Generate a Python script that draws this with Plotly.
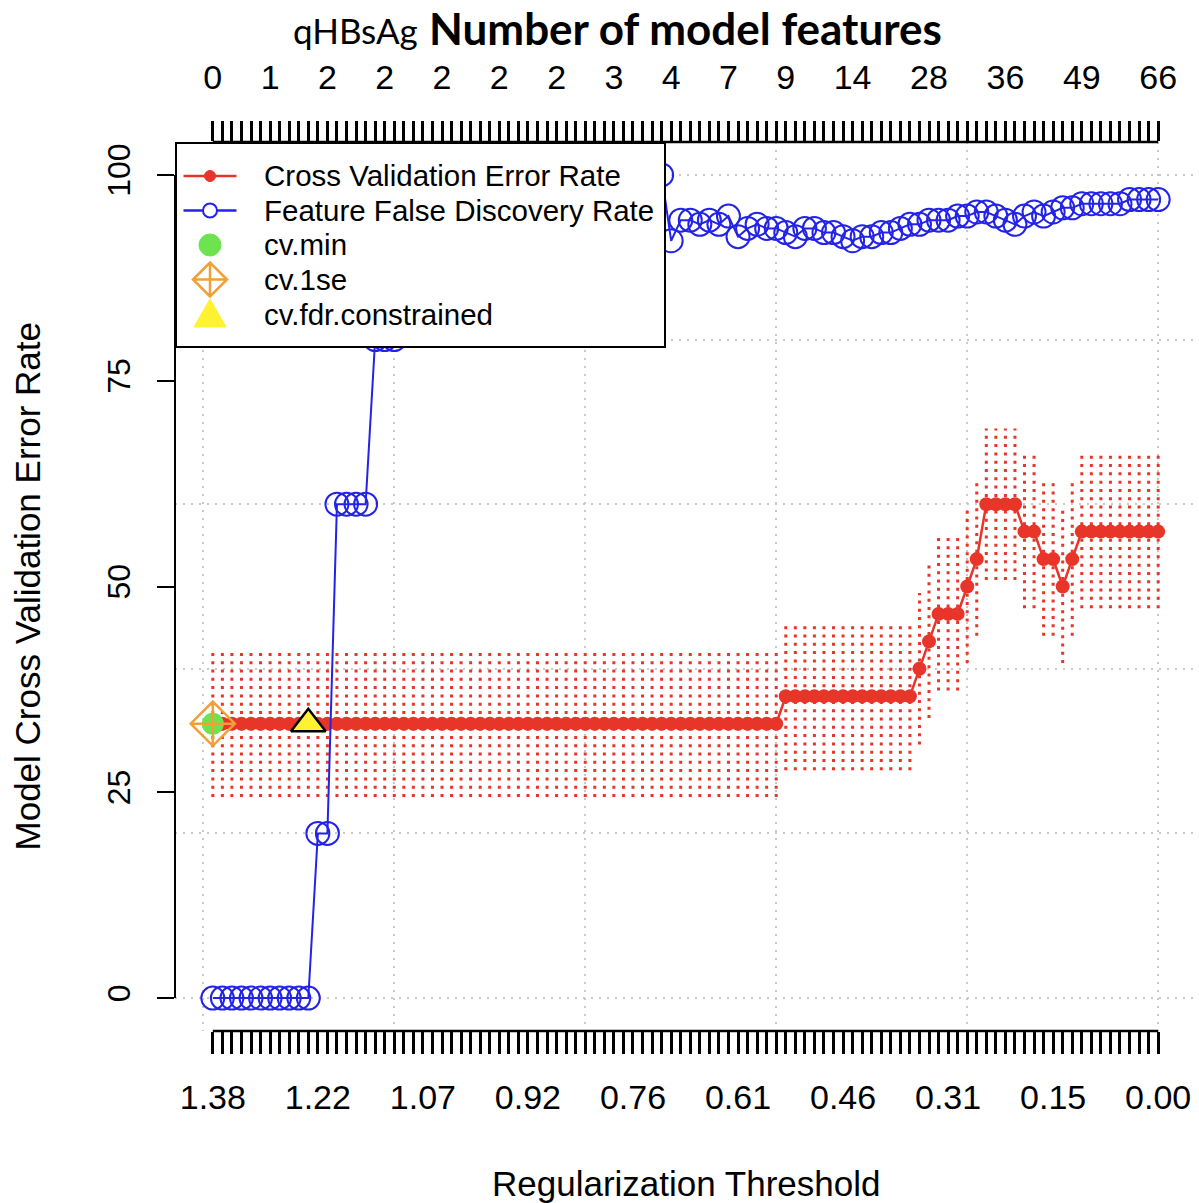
import plotly.graph_objects as go

# Cross-validated error rate (%) along the shrinkage threshold path
cv_error = [
    33.33, 33.33, 33.33, 33.33, 33.33, 33.33, 33.33, 33.33, 33.33, 33.33,
    33.33, 33.33, 33.33, 33.33, 33.33, 33.33, 33.33, 33.33, 33.33, 33.33,
    33.33, 33.33, 33.33, 33.33, 33.33, 33.33, 33.33, 33.33, 33.33, 33.33,
    33.33, 33.33, 33.33, 33.33, 33.33, 33.33, 33.33, 33.33, 33.33, 33.33,
    33.33, 33.33, 33.33, 33.33, 33.33, 33.33, 33.33, 33.33, 33.33, 33.33,
    33.33, 33.33, 33.33, 33.33, 33.33, 33.33, 33.33, 33.33, 33.33, 33.33,
    36.67, 36.67, 36.67, 36.67, 36.67, 36.67, 36.67, 36.67, 36.67, 36.67,
    36.67, 36.67, 36.67, 36.67, 40.00, 43.33, 46.67, 46.67, 46.67, 50.00,
    53.33, 60.00, 60.00, 60.00, 60.00, 56.67, 56.67, 53.33, 53.33, 50.00,
    53.33, 56.67, 56.67, 56.67, 56.67, 56.67, 56.67, 56.67, 56.67, 56.67,
]

# Standard error of the CV error at each threshold
cv_se = [
    8.9, 8.9, 8.9, 8.9, 8.9, 8.9, 8.9, 8.9, 8.9, 8.9,
    8.9, 8.9, 8.9, 8.9, 8.9, 8.9, 8.9, 8.9, 8.9, 8.9,
    8.9, 8.9, 8.9, 8.9, 8.9, 8.9, 8.9, 8.9, 8.9, 8.9,
    8.9, 8.9, 8.9, 8.9, 8.9, 8.9, 8.9, 8.9, 8.9, 8.9,
    8.9, 8.9, 8.9, 8.9, 8.9, 8.9, 8.9, 8.9, 8.9, 8.9,
    8.9, 8.9, 8.9, 8.9, 8.9, 8.9, 8.9, 8.9, 8.9, 8.9,
    9.0, 9.0, 9.0, 9.0, 9.0, 9.0, 9.0, 9.0, 9.0, 9.0,
    9.0, 9.0, 9.0, 9.0, 9.2, 9.3, 9.3, 9.3, 9.3, 9.3,
    9.3, 9.2, 9.2, 9.2, 9.2, 9.3, 9.3, 9.3, 9.3, 9.3,
    9.3, 9.3, 9.3, 9.3, 9.3, 9.3, 9.3, 9.3, 9.3, 9.3,
]

# Feature false discovery rate (%) at each threshold
fdr = [
    0, 0, 0, 0, 0, 0, 0, 0, 0, 0,
    0, 20, 20, 60, 60, 60, 60, 80, 80, 80,
    90, 90, 90, 90, 90, 90, 90, 90, 90, 90,
    93, 93, 93, 93, 93, 93, 93, 93, 93, 93,
    96, 96, 96, 96, 96, 96, 96, 100, 92, 94.5,
    94.5, 94, 94.5, 94, 95, 92.5, 93.5, 94, 93.5, 93.5,
    93, 92.5, 93.5, 93.5, 93, 93, 92.5, 92, 92.5, 92.5,
    93, 93, 93.5, 94, 94, 94.5, 94.5, 94.5, 95, 95,
    95.5, 95.5, 95, 94.5, 94, 95, 95.5, 95, 95.5, 96,
    96, 96.5, 96.5, 96.5, 96.5, 96.5, 97, 97, 97, 97,
]

# Bottom axis: threshold values printed under selected steps
threshold_labels = ["1.38", "1.22", "1.07", "0.92", "0.76", "0.61", "0.46", "0.31", "0.15", "0.00"]
threshold_label_steps = [1, 12, 23, 34, 45, 56, 67, 78, 89, 100]

# Top axis: number of features retained at selected steps
feature_labels = ["0", "1", "2", "2", "2", "2", "2", "3", "4", "7", "9", "14", "28", "36", "49", "66"]
feature_label_steps = [1, 7, 13, 19, 25, 31, 37, 43, 49, 55, 61, 68, 76, 84, 92, 100]

y_ticks = [0, 25, 50, 75, 100]

# Selected thresholds
cv_min_step = 1
cv_1se_step = 1
cv_fdr_step = 11

legend_labels = ["Cross Validation Error Rate", "Feature False Discovery Rate",
                 "cv.min", "cv.1se", "cv.fdr.constrained"]

RED = "#E8352A"
BLUE = "#2323E8"
GREEN = "#6DE34F"
ORANGE = "#F0A038"
YELLOW = "#FFF230"
SANS = "Liberation Sans, Arial, Helvetica, sans-serif"

W, H = 1199, 1203
M_L, M_R, M_T, M_B = 175, 3, 142, 172

n = len(cv_error)
steps = list(range(1, n + 1))

# R-style 4% padding around the data range
xpad = 0.04 * (n - 1)
x_range = [1 - xpad, n + xpad]
ypad = 0.04 * (max(y_ticks) - min(y_ticks))
y_range = [min(y_ticks) - ypad, max(y_ticks) + ypad]

bottom_text = {s: t for s, t in zip(threshold_label_steps, threshold_labels)}
top_text = {s: t for s, t in zip(feature_label_steps, feature_labels)}


def paper_x(px):
    return (px - M_L) / (W - M_L - M_R)


def paper_y(py):
    return (H - M_B - py) / (H - M_T - M_B)


# Dotted vertical error bars, one segment per threshold
eb_x, eb_y = [], []
for s, e, se in zip(steps, cv_error, cv_se):
    eb_x += [s, s, None]
    eb_y += [e - se, e + se, None]

fig = go.Figure()

fig.add_trace(go.Scatter(
    x=eb_x, y=eb_y, mode="lines", showlegend=False, hoverinfo="skip",
    line=dict(color=RED, width=3, dash="3px,5.3px"),
))
fig.add_trace(go.Scatter(
    x=steps, y=cv_error, mode="lines+markers", name=legend_labels[0], showlegend=False,
    line=dict(color=RED, width=2.5), marker=dict(color=RED, size=14),
))
fig.add_trace(go.Scatter(
    x=steps, y=fdr, mode="lines+markers", name=legend_labels[1], showlegend=False,
    line=dict(color=BLUE, width=2),
    marker=dict(symbol="circle-open", color=BLUE, size=23, line=dict(width=2)),
))
fig.add_trace(go.Scatter(
    x=[cv_min_step], y=[cv_error[cv_min_step - 1]], mode="markers", name=legend_labels[2],
    showlegend=False, marker=dict(color=GREEN, size=22),
))
fig.add_trace(go.Scatter(
    x=[cv_1se_step], y=[cv_error[cv_1se_step - 1]], mode="markers", name=legend_labels[3],
    showlegend=False,
    marker=dict(symbol="diamond-cross-open", color=ORANGE, size=34, line=dict(width=2.5)),
))
fig.add_trace(go.Scatter(
    x=[cv_fdr_step], y=[cv_error[cv_fdr_step - 1]], mode="markers", name=legend_labels[4],
    showlegend=False,
    marker=dict(symbol="triangle-up", color=YELLOW, size=30, line=dict(color="black", width=2.5)),
))
# empty carriers so the top axis and the dotted grid axes get drawn
fig.add_trace(go.Scatter(x=[None], y=[None], xaxis="x2", yaxis="y", showlegend=False, hoverinfo="skip"))
fig.add_trace(go.Scatter(x=[None], y=[None], xaxis="x3", yaxis="y2", showlegend=False, hoverinfo="skip"))

# ---- legend box drawn in the top-left corner, base-graphics style ----
LEG_LEFT, LEG_RIGHT, LEG_TOP, LEG_BOTTOM = 176, 665, 143, 347
ROW0, ROW_GAP = 176, 34.5
KEY_X, KEY_HALF = 210, 26.5
TEXT_X = 262

shapes = [
    dict(type="rect", xref="paper", yref="paper",
         x0=paper_x(LEG_LEFT), x1=paper_x(LEG_RIGHT), y0=paper_y(LEG_BOTTOM), y1=paper_y(LEG_TOP),
         fillcolor="white", line=dict(color="black", width=2), layer="above"),
]
annotations = []
for k, label in enumerate(legend_labels):
    ry = paper_y(ROW0 + k * ROW_GAP)
    kx = paper_x(KEY_X)
    if k < 2:
        col = RED if k == 0 else BLUE
        shapes.append(dict(type="line", xref="paper", yref="paper",
                           x0=paper_x(KEY_X - KEY_HALF), x1=paper_x(KEY_X + KEY_HALF), y0=ry, y1=ry,
                           line=dict(color=col, width=2.5), layer="above"))
    pix = dict(xref="paper", yref="paper", xsizemode="pixel", ysizemode="pixel",
               xanchor=kx, yanchor=ry, layer="above")
    if k == 0:
        shapes.append(dict(type="circle", x0=-5.5, x1=5.5, y0=-5.5, y1=5.5,
                           fillcolor=RED, line=dict(color=RED, width=1), **pix))
    elif k == 1:
        shapes.append(dict(type="circle", x0=-7, x1=7, y0=-7, y1=7,
                           fillcolor="white", line=dict(color=BLUE, width=2), **pix))
    elif k == 2:
        shapes.append(dict(type="circle", x0=-11, x1=11, y0=-11, y1=11,
                           fillcolor=GREEN, line=dict(color=GREEN, width=1), **pix))
    elif k == 3:
        shapes.append(dict(type="path", path="M -17 0 L 0 17 L 17 0 L 0 -17 Z M -17 0 L 17 0 M 0 -17 L 0 17",
                           line=dict(color=ORANGE, width=2.5), **pix))
    else:
        shapes.append(dict(type="path", path="M -16 -13 L 16 -13 L 0 15 Z",
                           fillcolor=YELLOW, line=dict(color=YELLOW, width=1), **pix))
    annotations.append(dict(text=label, xref="paper", yref="paper", x=paper_x(TEXT_X), y=ry,
                            xanchor="left", yanchor="middle", showarrow=False,
                            font=dict(family=SANS, size=29.5, color="black")))

# base-graphics axis spines spanning only the first to last tick
shapes += [
    dict(type="line", xref="paper", yref="y", x0=0, x1=0, y0=y_ticks[0], y1=y_ticks[-1],
         line=dict(color="black", width=2), layer="above"),
    dict(type="line", xref="x", yref="paper", x0=steps[0], x1=steps[-1], y0=0, y1=0,
         line=dict(color="black", width=2.5), layer="above"),
    dict(type="line", xref="x", yref="paper", x0=steps[0], x1=steps[-1], y0=1, y1=1,
         line=dict(color="black", width=2.5), layer="above"),
]

annotations += [
    dict(text="Number of model features", xref="paper", yref="paper", x=0.5, y=1.128,
         showarrow=False, xanchor="center", yanchor="middle",
         font=dict(family="Lato, sans-serif", size=44, color="black", weight="bold")),
    dict(text="qHBsAg", xref="paper", yref="paper", x=0.177, y=1.126,
         showarrow=False, xanchor="center", yanchor="middle",
         font=dict(family="Lato, sans-serif", size=35, color="black")),
    dict(text="Regularization Threshold", xref="paper", yref="paper", x=0.5, y=-0.171,
         showarrow=False, xanchor="center", yanchor="middle",
         font=dict(family=SANS, size=35, color="black")),
    dict(text="Model Cross Validation Error Rate", xref="paper", yref="paper", x=-0.144, y=0.5,
         showarrow=False, xanchor="center", yanchor="middle", textangle=-90,
         font=dict(family=SANS, size=35, color="black")),
]

grid_style = dict(showgrid=True, gridcolor="#C9C9C9", gridwidth=2, griddash="2px,6px",
                  showticklabels=False, ticks="", showline=False, zeroline=False)

tick_font_x = dict(family=SANS, size=34, color="black")
tick_font_y = dict(family=SANS, size=32, color="black")

fig.update_layout(
    width=W, height=H,
    margin=dict(l=M_L, r=M_R, t=M_T, b=M_B),
    paper_bgcolor="white", plot_bgcolor="white",
    showlegend=False,
    xaxis=dict(
        range=x_range, tickmode="array", tickvals=steps,
        ticktext=[bottom_text.get(s, "") for s in steps],
        ticks="outside", ticklen=22, tickwidth=2.5, tickcolor="black",
        tickfont=tick_font_x, ticklabelstandoff=14,
        showgrid=False, showline=False, zeroline=False,
    ),
    xaxis2=dict(
        range=x_range, overlaying="x", side="top", anchor="y",
        tickmode="array", tickvals=steps,
        ticktext=[top_text.get(s, "") for s in steps],
        ticks="outside", ticklen=20, tickwidth=2.5, tickcolor="black",
        tickfont=tick_font_x, ticklabelstandoff=18,
        showgrid=False, showline=False, zeroline=False,
    ),
    xaxis3=dict(range=x_range, overlaying="x", anchor="y2", tick0=0, dtick=20, **grid_style),
    yaxis=dict(
        range=y_range, tickmode="array", tickvals=y_ticks,
        ticks="outside", ticklen=17, tickwidth=2, tickcolor="black",
        tickangle=-90, tickfont=tick_font_y, ticklabelstandoff=14,
        showgrid=False, showline=False, zeroline=False,
    ),
    yaxis2=dict(range=y_range, overlaying="y", anchor="x3", tick0=0, dtick=20, **grid_style),
    annotations=annotations,
    shapes=shapes,
)

fig.write_html("out.html")
